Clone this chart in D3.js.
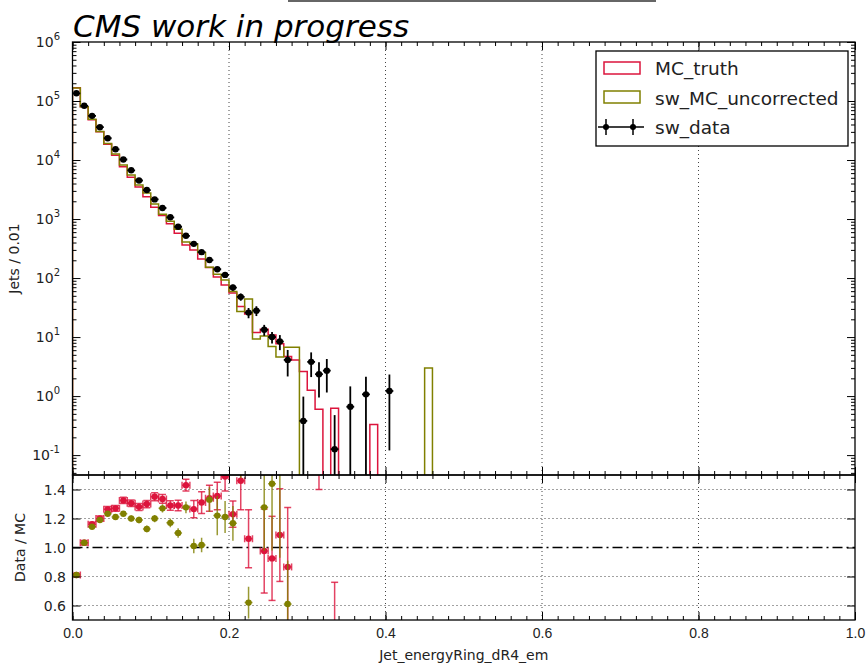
<!DOCTYPE html>
<html>
<head>
<meta charset="utf-8">
<script src="https://cdn.jsdelivr.net/npm/d3@7"></script>
<style>
  body { margin: 0; background: #fff; }
  svg { font-family: "DejaVu Sans", sans-serif; }
</style>
</head>
<body>
<div class="chart"></div>
<script>
// bins of 0.01 in Jet_energyRing_dR4_em
var binWidth = 0.01

var dataVals = [135000, 83000, 56000, 36000, 23400, 15200, 10200, 6700, 4500, 3100,
  2150, 1540, 1070, 740, 520, 380, 275, 202, 141, 113,
  69, 48, 26, 28, 13.3, 10, 8.4, 4.1, 0, 0.38,
  3.8, 2.35, 2.7, 0.126, 0, 0.66, 0, 1.07, 0, 0,
  1.22, 0, 0, 0, 0, 0]
var dataErr = [370, 290, 240, 190, 150, 125, 100, 82, 67, 56,
  46, 39, 33, 27, 23, 19.5, 16.6, 14.2, 11.9, 10.6,
  8.3, 6.9, 5.1, 5.3, 2.8, 2.2, 2.4, 1.95, 0, 0.6,
  1.7, 1.4, 1.55, 0.35, 0, 0.8, 0, 1.05, 0, 0,
  1.1, 0, 0, 0, 0, 0]

var truthVals = [167000, 80000, 48300, 30000, 18500, 12000, 7700, 5130, 3500, 2380,
  1590, 1150, 830, 574, 364, 300, 210, 151, 104, 76,
  56, 33, 24.5, 12, 13.6, 10.8, 7.7, 4.7, 4.1, 2.6,
  1.26, 0.6, 0, 0.62, 0, 0, 0, 0, 0.33, 0,
  0, 0, 0, 0, 0, 0]
var uncorrVals = [166700, 80300, 49000, 30300, 19000, 12600, 8270, 5580, 3780, 2750,
  1790, 1210, 915, 673, 407, 376, 270, 152, 116, 93,
  59, 27, 44, 9.3, 10.4, 6.9, 4.6, 6.7, 6.7, 0,
  0, 0, 0, 0, 0, 0, 0, 0, 0, 0,
  0, 0, 0, 0, 0, 3.0]

// ratio data / MC (null = no point)
var truthRatio = [0.81, 1.033, 1.16, 1.20, 1.263, 1.27, 1.325, 1.305, 1.28, 1.30,
  1.35, 1.335, 1.29, 1.29, 1.43, 1.265, 1.31, 1.34, 1.355, 1.49,
  1.23, 1.46, 1.06, 2.33, 0.976, 0.925, 1.086, 0.866, null, 0.15,
  3.0, 3.9, null, 0.2]
var truthRatioErr = [0.01, 0.015, 0.015, 0.017, 0.02, 0.02, 0.022, 0.022, 0.024, 0.025,
  0.027, 0.03, 0.033, 0.036, 0.04, 0.06, 0.075, 0.09, 0.095, 0.1,
  0.09, 0.2, 0.2, 0.7, 0.29, 0.29, 0.32, 0.41, null, 0.3,
  1.4, 2.5, null, 0.56]
var uncorrRatio = [0.81, 1.033, 1.143, 1.19, 1.233, 1.21, 1.233, 1.20, 1.19, 1.128,
  1.20, 1.27, 1.17, 1.10, 1.277, 1.01, 1.017, 1.33, 1.22, 1.21,
  1.167, 1.78, 0.62, 3.0, 1.277, 1.44, 1.83, 0.61]
var uncorrRatioErr = [0.008, 0.01, 0.012, 0.013, 0.015, 0.016, 0.018, 0.02, 0.022, 0.023,
  0.025, 0.028, 0.03, 0.033, 0.04, 0.05, 0.05, 0.085, 0.135, 0.11,
  0.12, 0.3, 0.11, 1.0, 0.3, 0.46, 0.9, 0.3]

var xTicks = [0, 0.2, 0.4, 0.6, 0.8, 1.0]
var ratioTicks = [0.6, 0.8, 1.0, 1.2, 1.4]
var legendNames = ["MC_truth", "sw_MC_uncorrected", "sw_data"]

var red = "#dc143c", olive = "#808000"

var svg = d3.select(".chart").append("svg")
  .attr("width", 867).attr("height", 666)

var left = 72.5, right = 855, upTop = 42, upBot = 475, rTop = 475, rBot = 620

var x = d3.scaleLinear().domain([0, 1]).range([left, right])
var yUp = d3.scaleLog().domain([0.046, 1e6]).range([upBot, upTop])
var yR = d3.scaleLinear().domain([0.5, 1.5]).range([rBot, rTop])

var defs = svg.append("defs")
defs.append("clipPath").attr("id", "clipUp").append("rect")
  .attr("x", left).attr("y", upTop).attr("width", right - left).attr("height", upBot - upTop)
defs.append("clipPath").attr("id", "clipR").append("rect")
  .attr("x", left).attr("y", rTop).attr("width", right - left).attr("height", rBot - rTop)

// cut-off title bar at the very top
svg.append("rect").attr("x", 288).attr("y", 0).attr("width", 368).attr("height", 2).attr("fill", "#666")

// grid
var grid = svg.append("g")
xTicks.slice(1, -1).forEach(function(t) {
  grid.append("line").attr("x1", x(t)).attr("x2", x(t)).attr("y1", upTop).attr("y2", upBot)
  grid.append("line").attr("x1", x(t)).attr("x2", x(t)).attr("y1", rTop).attr("y2", rBot)
})
ratioTicks.filter(function(t) { return t != 1.0 }).forEach(function(t) {
  grid.append("line").attr("x1", left).attr("x2", right).attr("y1", yR(t)).attr("y2", yR(t))
})
grid.selectAll("line").attr("stroke", "#444").attr("stroke-width", 1).attr("stroke-dasharray", "1,3")

svg.append("line").attr("x1", left).attr("x2", right).attr("y1", yR(1)).attr("y2", yR(1))
  .attr("stroke", "#000").attr("stroke-width", 1.3).attr("stroke-dasharray", "10,4,2,4")

// step histograms
function stepPath(vals) {
  var low = upBot + 6
  var p = d3.path()
  p.moveTo(x(0), low)
  vals.forEach(function(v, i) {
    var yy = v > 0 ? yUp(v) : low
    p.lineTo(x(i * binWidth), yy)
    p.lineTo(x((i + 1) * binWidth), yy)
  })
  p.lineTo(x(vals.length * binWidth), low)
  return p.toString()
}
var up = svg.append("g").attr("clip-path", "url(#clipUp)")
up.append("path").attr("d", stepPath(truthVals)).attr("fill", "none").attr("stroke", red).attr("stroke-width", 1.5)
up.append("path").attr("d", stepPath(uncorrVals)).attr("fill", "none").attr("stroke", olive).attr("stroke-width", 1.5)

// data points
var pts = dataVals.map(function(v, i) { return {i: i, v: v, e: dataErr[i]} }).filter(function(d) { return d.v > 0 })
var dg = up.append("g")
pts.forEach(function(d) {
  var cx = x((d.i + 0.5) * binWidth)
  var lo = d.v - d.e > 0 ? yUp(d.v - d.e) : upBot + 10
  dg.append("line").attr("x1", cx).attr("x2", cx).attr("y1", yUp(d.v + d.e)).attr("y2", lo)
  dg.append("line").attr("x1", x(d.i * binWidth)).attr("x2", x((d.i + 1) * binWidth)).attr("y1", yUp(d.v)).attr("y2", yUp(d.v))
  dg.append("circle").attr("cx", cx).attr("cy", yUp(d.v)).attr("r", 3.2).attr("fill", "#000")
})
dg.selectAll("line").attr("stroke", "#000").attr("stroke-width", 1.8)

// ratio points
var rg = svg.append("g").attr("clip-path", "url(#clipR)")
function ratioPoints(vals, errs, col, caps) {
  var g = rg.append("g")
  vals.forEach(function(v, i) {
    if (v == null) return
    var e = errs[i], cx = x((i + 0.5) * binWidth)
    var x0 = x(i * binWidth), x1 = x((i + 1) * binWidth)
    var b = g.append("g").attr("stroke", col).attr("stroke-width", 1.5).attr("stroke-opacity", 0.8)
    b.append("line").attr("x1", cx).attr("x2", cx).attr("y1", yR(v + e)).attr("y2", yR(v - e))
    b.append("line").attr("x1", x0).attr("x2", x1).attr("y1", yR(v)).attr("y2", yR(v))
    if (caps) {
      b.append("line").attr("x1", cx - 3.5).attr("x2", cx + 3.5).attr("y1", yR(v + e)).attr("y2", yR(v + e))
      b.append("line").attr("x1", cx - 3.5).attr("x2", cx + 3.5).attr("y1", yR(v - e)).attr("y2", yR(v - e))
      b.append("line").attr("x1", x0).attr("x2", x0).attr("y1", yR(v) - 3.5).attr("y2", yR(v) + 3.5)
      b.append("line").attr("x1", x1).attr("x2", x1).attr("y1", yR(v) - 3.5).attr("y2", yR(v) + 3.5)
    }
    g.append("circle").attr("cx", cx).attr("cy", yR(v)).attr("r", 3.2).attr("fill", col)
  })
}
ratioPoints(truthRatio, truthRatioErr, red, true)
ratioPoints(uncorrRatio, uncorrRatioErr, olive, false)

// axes (inward ticks, classic style)
var minorX = d3.range(0, 1.001, 0.02)
function xAxisTicks(yPos, top, labels) {
  var g = svg.append("g").attr("transform", "translate(0," + yPos + ")")
  var ax = top ? d3.axisTop : d3.axisBottom
  g.append("g").call(ax(x).tickValues(minorX).tickSize(-4).tickFormat(""))
  g.append("g").call(ax(x).tickValues(xTicks).tickSize(-8).tickPadding(8)
    .tickFormat(labels ? d3.format(".1f") : ""))
  g.selectAll(".domain").remove()
  return g
}
xAxisTicks(upTop, true, false)
xAxisTicks(upBot, false, false)
xAxisTicks(rTop, true, false)
var xb = xAxisTicks(rBot, false, true)
xb.selectAll("text").attr("font-size", 14).attr("fill", "#222")

// log y ticks
var minorLog = []
for (var p = -2; p < 6; p++) for (var m = 2; m < 10; m++) {
  var v = m * Math.pow(10, p)
  if (v > 0.046 && v < 1e6) minorLog.push(v)
}
var decades = [1e-1, 1, 10, 100, 1e3, 1e4, 1e5, 1e6]
;[[left, d3.axisLeft], [right, d3.axisRight]].forEach(function(s) {
  var g = svg.append("g").attr("transform", "translate(" + s[0] + ",0)")
  g.append("g").call(s[1](yUp).tickValues(minorLog).tickSize(-4).tickFormat(""))
  g.append("g").call(s[1](yUp).tickValues(decades).tickSize(-8).tickFormat(""))
  g.append("g").call(s[1](yR).tickValues(ratioTicks).tickSize(-8).tickFormat(""))
  g.selectAll(".domain").remove()
})
svg.selectAll(".tick line").attr("stroke", "#000")

// y tick labels
var ylab = svg.append("g").attr("font-size", 14).attr("fill", "#222").attr("text-anchor", "end")
decades.forEach(function(d) {
  var t = ylab.append("text").attr("x", 60).attr("y", yUp(d) + 5)
  t.append("tspan").text("10")
  t.append("tspan").attr("font-size", 10).attr("dy", -7).text(Math.round(Math.log10(d)))
})
ratioTicks.forEach(function(t) {
  ylab.append("text").attr("x", 66).attr("y", yR(t) + 5).text(t.toFixed(1))
})

// frames
svg.append("rect").attr("x", left).attr("y", upTop).attr("width", right - left).attr("height", upBot - upTop)
  .attr("fill", "none").attr("stroke", "#000").attr("stroke-width", 1.3)
svg.append("rect").attr("x", left).attr("y", rTop).attr("width", right - left).attr("height", rBot - rTop)
  .attr("fill", "none").attr("stroke", "#000").attr("stroke-width", 1.3)

// titles
svg.append("text").attr("x", 73).attr("y", 37).attr("font-size", 31).attr("font-style", "italic")
  .text("CMS work in progress")
svg.append("text").attr("x", (left + right) / 2).attr("y", 660).attr("text-anchor", "middle")
  .attr("font-size", 14).attr("fill", "#222").text("Jet_energyRing_dR4_em")
svg.append("text").attr("transform", "translate(19," + (upTop + upBot) / 2 + ") rotate(-90)")
  .attr("text-anchor", "middle").attr("font-size", 14).attr("fill", "#222").text("Jets / 0.01")
svg.append("text").attr("transform", "translate(25," + (rTop + rBot) / 2 + ") rotate(-90)")
  .attr("text-anchor", "middle").attr("font-size", 14).attr("fill", "#222").text("Data / MC")

// legend
var lg = svg.append("g").attr("transform", "translate(596,51)")
lg.append("rect").attr("width", 252).attr("height", 95).attr("fill", "#fff").attr("stroke", "#000").attr("stroke-width", 1.3)
lg.append("rect").attr("x", 8).attr("y", 11).attr("width", 36).attr("height", 12).attr("fill", "none").attr("stroke", red).attr("stroke-width", 1.5)
lg.append("rect").attr("x", 8).attr("y", 40).attr("width", 36).attr("height", 12).attr("fill", "none").attr("stroke", olive).attr("stroke-width", 1.5)
lg.append("line").attr("x1", 2).attr("x2", 48).attr("y1", 76).attr("y2", 76).attr("stroke", "#000").attr("stroke-width", 1.5)
;[10, 37].forEach(function(mx) {
  lg.append("line").attr("x1", mx).attr("x2", mx).attr("y1", 68).attr("y2", 84).attr("stroke", "#000").attr("stroke-width", 1.5)
  lg.append("circle").attr("cx", mx).attr("cy", 76).attr("r", 3).attr("fill", "#000")
})
legendNames.forEach(function(n, i) {
  lg.append("text").attr("x", 59).attr("y", 24 + i * 29.5).attr("font-size", 18.5).attr("fill", "#222").text(n)
})
</script>
</body>
</html>
